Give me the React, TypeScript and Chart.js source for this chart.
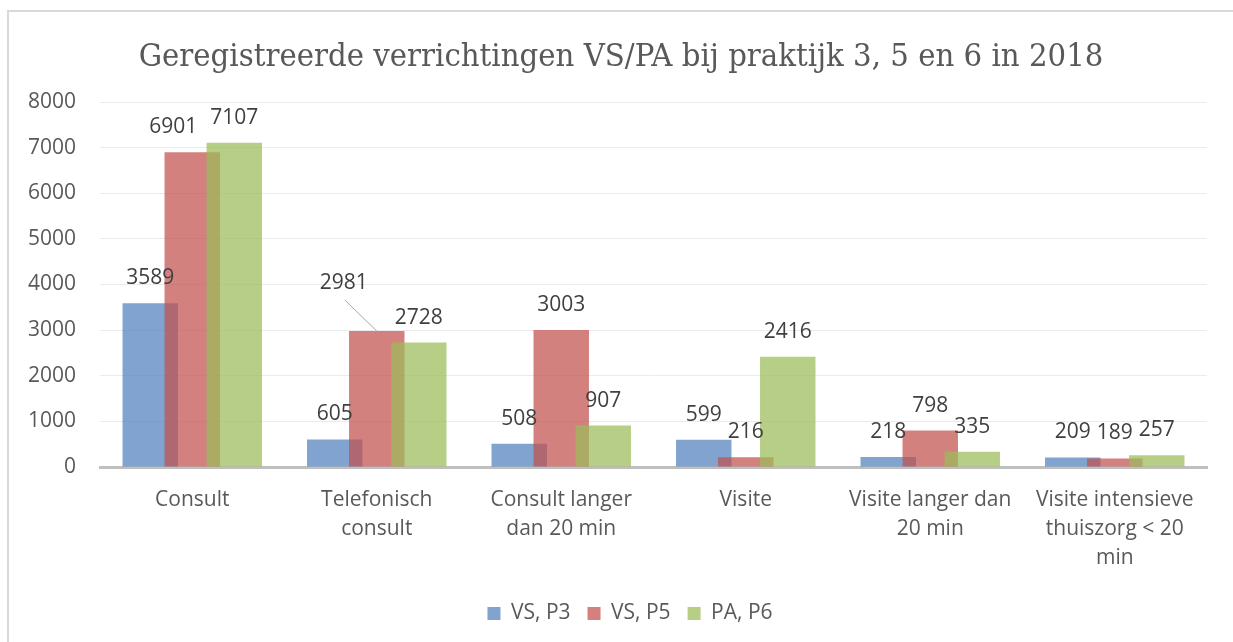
import React, { useEffect, useRef } from "react";
import { Chart, registerables } from "chart.js";

Chart.register(...registerables);

const TITLE = "Geregistreerde verrichtingen VS/PA bij praktijk 3, 5 en 6 in 2018";
const categories: string[][] = [
  ["Consult"],
  ["Telefonisch", "consult"],
  ["Consult langer", "dan 20 min"],
  ["Visite"],
  ["Visite langer dan", "20 min"],
  ["Visite intensieve", "thuiszorg < 20", "min"],
];
const seriesNames = ["VS, P3", "VS, P5", "PA, P6"];
const vsP3 = [3589, 605, 508, 599, 218, 209];
const vsP5 = [6901, 2981, 3003, 216, 798, 189];
const paP6 = [7107, 2728, 907, 2416, 335, 257];
const seriesColors = ["rgba(79,129,189,0.72)", "rgba(192,80,77,0.72)", "rgba(155,187,89,0.72)"];
const yMin = 0;
const yMax = 8000;
const yStep = 1000;
// moved data labels (one with a leader line)
const labelShifts = [
  { ds: 1, idx: 0, dx: -19, dy: 0, leader: false },
  { ds: 1, idx: 1, dx: -33, dy: -23, leader: true },
];

const FONT = '"Open Sans", "Noto Sans", sans-serif';

export default function App() {
  const ref = useRef<HTMLCanvasElement | null>(null);

  useEffect(() => {
    if (!ref.current) return;
    document.body.style.overflow = "hidden";

    const drawOrderPlugin = {
      id: "drawOrder",
      beforeDatasetsDraw(chart: any) {
        for (let i = 0; i < chart.data.datasets.length; i++) {
          const meta = chart.getDatasetMeta(i);
          if (!meta.hidden) meta.controller.draw();
        }
        return false;
      },
    };

    const shiftPlugin = {
      id: "blockShift",
      afterLayout(chart: any) {
        if (chart.legend) chart.legend.left += 44;
        if (chart.titleBlock) chart.titleBlock.left += 26;
      },
    };

    const labelPlugin = {
      id: "valueLabels",
      afterDraw(chart: any) {
        const ctx = chart.ctx;
        ctx.save();
        ctx.font = `21px ${FONT}`;
        ctx.fillStyle = "#404040";
        ctx.textAlign = "center";
        ctx.textBaseline = "middle";
        chart.data.datasets.forEach((ds: any, i: number) => {
          const meta = chart.getDatasetMeta(i);
          meta.data.forEach((el: any, j: number) => {
            let x = el.x;
            let y = el.y - 25;
            const s = labelShifts.find((l) => l.ds === i && l.idx === j);
            if (s) {
              x += s.dx;
              y += s.dy;
              if (s.leader) {
                ctx.strokeStyle = "#a6a6a6";
                ctx.lineWidth = 1;
                ctx.beginPath();
                ctx.moveTo(x + 1, y + 17);
                ctx.lineTo(el.x, el.y);
                ctx.stroke();
              }
            }
            ctx.fillText(String(ds.data[j]), x, y);
          });
        });
        ctx.restore();
      },
    };

    const chart = new Chart(ref.current, {
      type: "bar",
      data: {
        labels: categories,
        datasets: [vsP3, vsP5, paP6].map((d, i) => ({
          label: seriesNames[i],
          data: d,
          backgroundColor: seriesColors[i],
          borderWidth: 0,
          categoryPercentage: 0.683,
          barPercentage: 1.32,
        })),
      },
      options: {
        responsive: false,
        animation: false,
        layout: { padding: { left: 0, right: 26, top: 0, bottom: 8 } },
        plugins: {
          tooltip: { enabled: false },
          title: {
            display: true,
            text: TITLE,
            color: "#595959",
            font: { family: '"DejaVu Serif Condensed", "DejaVu Serif", serif', size: 32.5, weight: "normal", lineHeight: 1.2 },
            padding: { top: 26, bottom: 25 },
          },
          legend: {
            position: "bottom",
            labels: {
              boxWidth: 13,
              boxHeight: 13,
              padding: 17,
              color: "#595959",
              font: { family: FONT, size: 21 },
            },
          },
        },
        scales: {
          x: {
            grid: { display: false, drawTicks: false },
            border: { display: true, color: "#bfbfbf", width: 3 },
            ticks: {
              color: "#595959",
              font: { family: FONT, size: 21, lineHeight: 1.38 },
              padding: 19,
              maxRotation: 0,
              autoSkip: false,
            },
            afterFit: (s: any) => {
              s.height = 119;
            },
          },
          y: {
            min: yMin,
            max: yMax,
            grid: { color: "#ebebeb", lineWidth: 1, drawTicks: false },
            border: { display: false },
            ticks: {
              stepSize: yStep,
              color: "#595959",
              font: { family: FONT, size: 21 },
              padding: 24,
              callback: (v: any) => String(v),
            },
            afterFit: (s: any) => {
              s.width = 91;
            },
          },
        },
      },
      plugins: [drawOrderPlugin, shiftPlugin, labelPlugin],
    } as any);

    return () => chart.destroy();
  }, []);

  return (
    <div>
      <div
        style={{
          position: "absolute",
          left: 7,
          top: 10,
          width: 1226,
          height: 632,
          boxSizing: "border-box",
          borderTop: "2px solid #d9d9d9",
          borderLeft: "2px solid #d9d9d9",
          background: "#ffffff",
        }}
      />
      <canvas
        ref={ref}
        width={1224}
        height={630}
        style={{ position: "absolute", left: 9, top: 12, width: 1224, height: 630 }}
      />
    </div>
  );
}
